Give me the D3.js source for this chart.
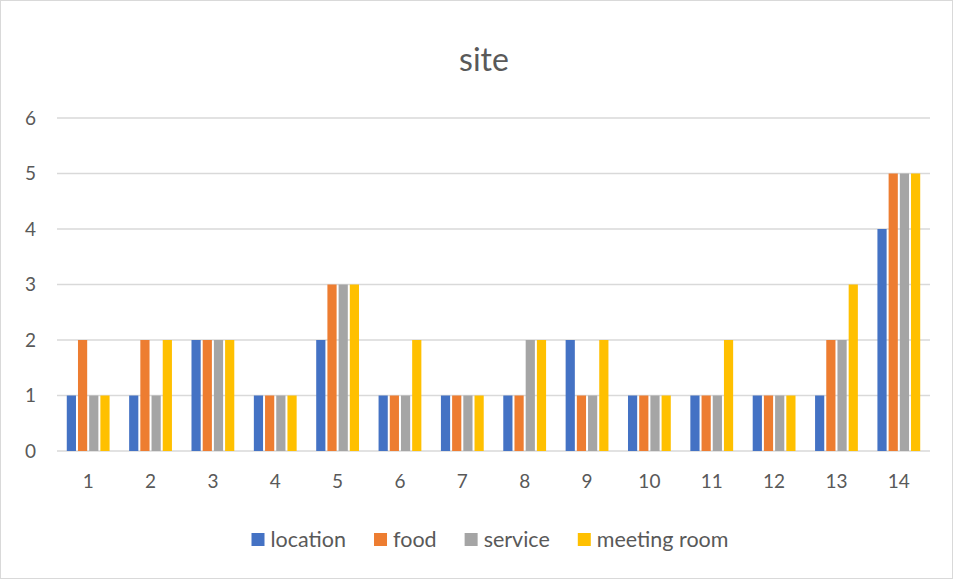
<!DOCTYPE html>
<html>
<head>
<meta charset="utf-8">
<script src="https://cdn.jsdelivr.net/npm/d3@7"></script>
<style>
  body { margin: 0; background: #fff; }
  svg { display: block; font-family: Lato, "Noto Sans", sans-serif; }
</style>
</head>
<body>
<svg id="chart" width="953" height="579"></svg>
<script>
// chart data
const categories = ["1", "2", "3", "4", "5", "6", "7", "8", "9", "10", "11", "12", "13", "14"];
const seriesNames = ["location", "food", "service", "meeting room"];
const location_ = [1, 1, 2, 1, 2, 1, 1, 1, 2, 1, 1, 1, 1, 4];
const food = [2, 2, 2, 1, 3, 1, 1, 1, 1, 1, 1, 1, 2, 5];
const service = [1, 1, 2, 1, 3, 1, 1, 2, 1, 1, 1, 1, 2, 5];
const meetingRoom = [1, 2, 2, 1, 3, 2, 1, 2, 2, 1, 2, 1, 3, 5];
const yTicks = [0, 1, 2, 3, 4, 5, 6];
const colors = ["#4472C4", "#ED7D31", "#A5A5A5", "#FFC000"];

const values = [location_, food, service, meetingRoom];
const rows = categories.map((c, i) => ({
    cat: c,
    vals: seriesNames.map((s, j) => ({ key: s, value: values[j][i] }))
}));

const width = 953, height = 579;
const margin = { left: 57, right: 23, top: 118, bottom: 128 };

const svg = d3.select("#chart");

// chart border
svg.append("rect")
    .attr("x", 0.5).attr("y", 0.5)
    .attr("width", width - 1).attr("height", height - 1)
    .attr("fill", "#fff")
    .attr("stroke", "#d9d9d9");

const x0 = d3.scaleBand()
    .domain(categories)
    .range([margin.left, width - margin.right])
    .paddingInner(0).paddingOuter(0);

const groupW = 44.8;
const x1 = d3.scaleBand()
    .domain(seriesNames)
    .range([(x0.bandwidth() - groupW) / 2, (x0.bandwidth() + groupW) / 2]);

const y = d3.scaleLinear()
    .domain([0, 6])
    .range([height - margin.bottom, margin.top]);

// gridlines
svg.append("g")
    .selectAll("line")
    .data(yTicks)
    .join("line")
    .attr("x1", margin.left)
    .attr("x2", width - margin.right)
    .attr("y1", d => y(d))
    .attr("y2", d => y(d))
    .attr("stroke", "#d9d9d9")
    .attr("stroke-width", 1.3);

// y labels
svg.append("g")
    .selectAll("text")
    .data(yTicks)
    .join("text")
    .attr("x", 36)
    .attr("y", d => y(d))
    .attr("dy", "0.35em")
    .attr("text-anchor", "end")
    .attr("font-size", 19)
    .attr("fill", "#595959")
    .text(d => d);

// bars
svg.append("g")
    .selectAll("g")
    .data(rows)
    .join("g")
    .attr("transform", d => `translate(${x0(d.cat)},0)`)
    .selectAll("rect")
    .data(d => d.vals)
    .join("rect")
    .attr("x", d => x1(d.key) + 1)
    .attr("width", x1.bandwidth() - 2)
    .attr("y", d => y(d.value))
    .attr("height", d => y(0) - y(d.value))
    .attr("fill", (d, i) => colors[i]);

// x labels
svg.append("g")
    .selectAll("text")
    .data(categories)
    .join("text")
    .attr("x", d => x0(d) + x0.bandwidth() / 2)
    .attr("y", 481)
    .attr("dy", "0.35em")
    .attr("text-anchor", "middle")
    .attr("font-size", 19)
    .attr("fill", "#595959")
    .text(d => d);

// title
svg.append("text")
    .attr("x", 484)
    .attr("y", 60)
    .attr("dy", "0.35em")
    .attr("text-anchor", "middle")
    .attr("font-size", 32)
    .attr("fill", "#595959")
    .text("site");

// legend
const legend = svg.append("g");
let lx = 0;
const gap = 28;
seriesNames.forEach((s, i) => {
    const item = legend.append("g").attr("transform", `translate(${lx},0)`);
    item.append("rect")
        .attr("x", 0).attr("y", -6)
        .attr("width", 13).attr("height", 13)
        .attr("fill", colors[i]);
    const t = item.append("text")
        .attr("x", 19)
        .attr("y", 0)
        .attr("dy", "0.38em")
        .attr("font-size", 21.5)
        .attr("fill", "#595959")
        .text(s);
    lx += 19 + t.node().getComputedTextLength() + gap;
});
const legendW = lx - gap;
legend.attr("transform", `translate(${490 - legendW / 2},539)`);
</script>
</body>
</html>
